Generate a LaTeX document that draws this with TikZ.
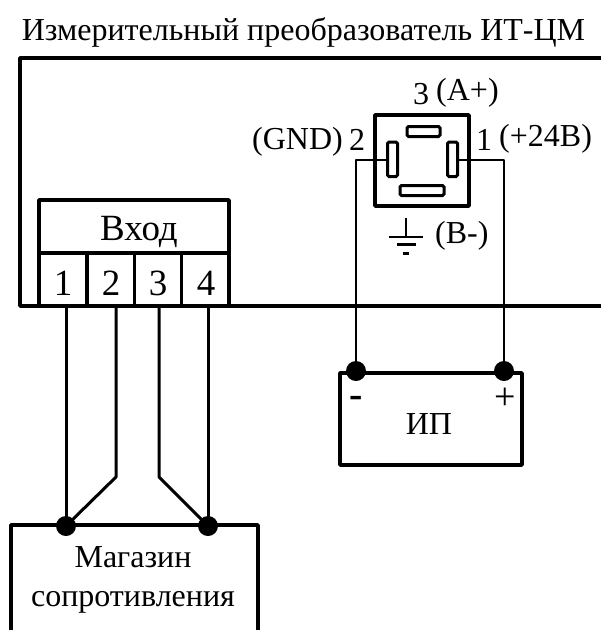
\documentclass[tikz,border=0pt]{standalone}
\usepackage{fontspec}
\setmainfont{Liberation Serif}
\tikzset{
  thick line/.style={line width=3.6pt,line join=round,line cap=round},
  wire/.style={line width=3pt,line join=round},
  thin wire/.style={line width=2.4pt,line join=round},
  pin/.style={line width=3pt,rounded corners=1.5pt},
  dot/.style={circle,fill=black,inner sep=0pt,minimum size=20pt},
  lbl/.style={inner sep=0pt,font=\fontsize{32}{36}\selectfont},
  big lbl/.style={inner sep=0pt,font=\fontsize{37}{40}\selectfont},
  mid lbl/.style={inner sep=0pt,font=\fontsize{32}{36}\selectfont}
}
\begin{document}
\begin{tikzpicture}[x=1pt,y=-1pt]
\useasboundingbox (0,0) rectangle (601,630);
\node[lbl,anchor=base] (title) at (303.5,40) {Измерительный преобразователь ИТ-ЦМ};
% enclosure
\draw[thick line,line cap=butt] (601,58) -- (20,58) -- (20,306) -- (601,306);
% input block
\draw[thick line] (39,200) rectangle (229,306);
\draw[thick line] (39,253) -- (229,253);
\draw[thick line] (87,253) -- (87,306);
\draw[thick line] (134.5,253) -- (134.5,306);
\draw[thick line] (181.5,253) -- (181.5,306);
\node[big lbl,anchor=base] (vhod) at (139,240) {Вход};
\node[big lbl,anchor=base] (n1) at (63,295) {1};
\node[big lbl,anchor=base] (n2) at (111,295) {2};
\node[big lbl,anchor=base] (n3) at (158,295) {3};
\node[big lbl,anchor=base] (n4) at (206,295) {4};
% connector
\draw[thick line] (375,115) rectangle (469,206);
\draw[pin] (407,126.5) rectangle (440,136.5);
\draw[pin] (400,185.5) rectangle (444,195.5);
\draw[pin] (387.5,142) rectangle (397.5,176.5);
\draw[pin] (447.5,142) rectangle (457.5,176.5);
\node[mid lbl,anchor=base] (c3) at (421,104) {3};
\node[mid lbl,anchor=base west] (a) at (436,100) {(A+)};
\node[mid lbl,anchor=base east] (gnd) at (343,149) {(GND)};
\node[mid lbl,anchor=base] (c2) at (357,150) {2};
\node[mid lbl,anchor=base] (c1) at (484,150) {1};
\node[mid lbl,anchor=base west] (p24) at (499,146) {(+24В)};
\node[mid lbl,anchor=base west] (b) at (435,243) {(В-)};
\coordinate (gt) at (406,218);
\coordinate (gb) at (406,237);
\draw[thin wire] (gt) -- (gb);
\draw[line width=2.6pt] (389,237) -- (423,237);
\draw[line width=2.6pt] (397,244.5) -- (416,244.5);
\draw[line width=3pt] (403,253) -- (409,253);
% power supply
\draw[thick line] (340,373) rectangle (522,465);
\node[dot] (ipm) at (356,371) {};
\node[dot] (ipp) at (504,371) {};
\coordinate (pl) at (387.5,160);
\coordinate (pr) at (457.5,160);
\coordinate (cl) at (356,160);
\coordinate (cr) at (504,160);
\draw[thin wire] (pl) -- (cl) -- (ipm.center);
\draw[thin wire] (pr) -- (cr) -- (ipp.center);
\node[lbl,anchor=base] (ip) at (429,434) {ИП};
\node[inner sep=0pt,anchor=base,font=\fontsize{40}{40}\selectfont\bfseries] (minus) at (356,407) {-};
\node[inner sep=0pt,anchor=base,font=\fontsize{38}{40}\selectfont] (plus) at (505,409) {+};
% resistance box
\coordinate (rl) at (11,630);
\coordinate (rr) at (258,630);
\draw[thick line,line cap=butt] (rl) -- (11,525) -- (258,525) -- (rr);
\node[dot] (rd1) at (66,526) {};
\node[dot] (rd2) at (208,526) {};
\coordinate (w1) at (66,306);
\coordinate (w2) at (116,306);
\coordinate (w3) at (159,306);
\coordinate (w4) at (208,306);
\coordinate (k2) at (116,477);
\coordinate (k3) at (159,477);
\draw[wire] (w1) -- (rd1.center);
\draw[wire] (w2) -- (k2) -- (rd1.center);
\draw[wire] (w3) -- (k3) -- (rd2.center);
\draw[wire] (w4) -- (rd2.center);
\node[lbl,anchor=base] (m1) at (133,567) {Магазин};
\node[lbl,anchor=base] (m2) at (133,606) {сопротивления};
\end{tikzpicture}
\end{document}
